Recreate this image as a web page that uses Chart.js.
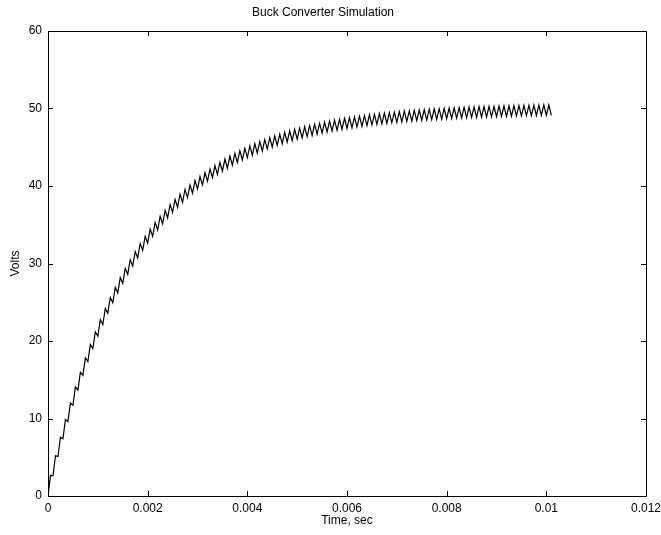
<!DOCTYPE html>
<html>
<head>
<meta charset="utf-8">
<title>Buck Converter Simulation</title>
<script src="https://cdn.jsdelivr.net/npm/chart.js@4"></script>
<style>
  html, body { margin: 0; padding: 0; background: #fff; }
  #wrap { width: 661px; height: 535px; }
</style>
</head>
<body>
<div id="wrap"><canvas id="buckChart" width="661" height="535"></canvas></div>
<script>
// switching period of the converter (s)
const PERIOD = 0.0001;

// output voltage at the start of each switching cycle (troughs)
const troughVolts = [
    0.0, 2.6, 5.1, 7.4, 9.6, 11.7, 13.68, 15.56, 17.34, 19.03,
    20.62, 22.13, 23.57, 24.93, 26.21, 27.43, 28.59, 29.68, 30.71, 31.69,
    32.63, 33.51, 34.34, 35.13, 35.88, 36.59, 37.26, 37.9, 38.5, 39.07,
    39.61, 40.12, 40.61, 41.07, 41.5, 41.92, 42.31, 42.68, 43.03, 43.36,
    43.67, 43.97, 44.25, 44.52, 44.77, 45.01, 45.24, 45.46, 45.66, 45.85,
    46.04, 46.21, 46.38, 46.53, 46.68, 46.82, 46.95, 47.08, 47.19, 47.31,
    47.42, 47.51, 47.61, 47.7, 47.79, 47.87, 47.94, 48.02, 48.09, 48.16,
    48.22, 48.27, 48.33, 48.38, 48.43, 48.48, 48.53, 48.57, 48.6, 48.64,
    48.68, 48.72, 48.75, 48.78, 48.81, 48.84, 48.86, 48.89, 48.91, 48.93,
    48.95, 48.97, 48.99, 49.01, 49.03, 49.04, 49.06, 49.07, 49.09, 49.1,
    49.11, 49.12
];

// output voltage at the end of each on-time (peaks)
const peakVolts = [
    2.67, 5.2, 7.59, 9.87, 12.01, 14.06, 15.98, 17.81, 19.55, 21.19,
    22.74, 24.21, 25.61, 26.93, 28.18, 29.37, 30.5, 31.56, 32.56, 33.51,
    34.43, 35.29, 36.09, 36.86, 37.59, 38.28, 38.94, 39.56, 40.14, 40.7,
    41.22, 41.72, 42.2, 42.64, 43.06, 43.47, 43.85, 44.21, 44.55, 44.87,
    45.17, 45.47, 45.74, 46.0, 46.24, 46.48, 46.7, 46.92, 47.11, 47.3,
    47.48, 47.65, 47.81, 47.96, 48.1, 48.24, 48.37, 48.49, 48.6, 48.72,
    48.82, 48.91, 49.01, 49.1, 49.18, 49.26, 49.33, 49.41, 49.48, 49.55,
    49.6, 49.65, 49.71, 49.76, 49.81, 49.86, 49.9, 49.94, 49.97, 50.01,
    50.05, 50.09, 50.12, 50.15, 50.18, 50.21, 50.23, 50.25, 50.27, 50.29,
    50.31, 50.33, 50.35, 50.37, 50.39, 50.4, 50.42, 50.43, 50.45, 50.46,
    50.47
];

// tick labels
const xTickValues = [0, 0.002, 0.004, 0.006, 0.008, 0.01, 0.012];
const yTickValues = [0, 10, 20, 30, 40, 50, 60];

const FONT = { family: "'Liberation Sans', Arial, Helvetica, sans-serif", size: 12 };

// interleave troughs and peaks into one trace
const points = [];
for (let k = 0; k < troughVolts.length; k++) {
    points.push({ x: k * PERIOD, y: troughVolts[k] });
    if (k < peakVolts.length) {
        points.push({ x: (k + 0.5) * PERIOD, y: peakVolts[k] });
    }
}

// matlab-ish box with inward ticks on all four sides
const boxPlugin = {
    id: "boxPlugin",
    afterDraw(chart) {
        const { ctx, chartArea: a, scales } = chart;
        const len = 5;
        ctx.save();
        ctx.strokeStyle = "#000";
        ctx.lineWidth = 1;
        ctx.beginPath();
        ctx.rect(Math.round(a.left) + 0.5, Math.round(a.top) + 0.5,
                 Math.round(a.right - a.left), Math.round(a.bottom - a.top));
        xTickValues.forEach(function (v) {
            const px = Math.round(scales.x.getPixelForValue(v)) + 0.5;
            ctx.moveTo(px, a.bottom);
            ctx.lineTo(px, a.bottom - len);
            ctx.moveTo(px, a.top);
            ctx.lineTo(px, a.top + len);
        });
        yTickValues.forEach(function (v) {
            const py = Math.round(scales.y.getPixelForValue(v)) + 0.5;
            ctx.moveTo(a.left, py);
            ctx.lineTo(a.left + len, py);
            ctx.moveTo(a.right, py);
            ctx.lineTo(a.right - len, py);
        });
        ctx.stroke();
        ctx.restore();
    }
};

const ctx = document.getElementById("buckChart").getContext("2d");
const buckChart = new Chart(ctx, {
    type: "line",
    data: {
        datasets: [{
            label: "Vout",
            data: points,
            borderColor: "#000",
            borderWidth: 1.2,
            pointRadius: 0,
            tension: 0,
            fill: false
        }]
    },
    options: {
        responsive: false,
        animation: false,
        layout: { padding: { left: 0, right: 15, top: 0, bottom: 0 } },
        plugins: {
            legend: { display: false },
            tooltip: { enabled: false },
            title: {
                display: true,
                text: "Buck Converter Simulation",
                color: "#000",
                font: { family: FONT.family, size: 12, weight: "normal" },
                padding: { top: 5, bottom: 11.6 }
            }
        },
        scales: {
            x: {
                type: "linear",
                min: 0,
                max: 0.012,
                grid: { display: false, drawTicks: false },
                border: { display: false },
                afterBuildTicks: function (scale) {
                    scale.ticks = xTickValues.map(v => ({ value: v }));
                },
                afterFit: function (scale) {
                    scale.height = 39;
                    // let the outer label overhang instead of shrinking the plot
                    scale.paddingLeft = 0;
                    scale.paddingRight = 0;
                },
                ticks: {
                    color: "#000",
                    font: FONT,
                    padding: 5,
                    maxRotation: 0,
                    callback: v => String(Number(v.toFixed(3)))
                },
                title: {
                    display: true,
                    text: "Time, sec",
                    color: "#000",
                    font: FONT,
                    padding: { top: 0, bottom: 6.8 }
                }
            },
            y: {
                min: 0,
                max: 60,
                grid: { display: false, drawTicks: false },
                border: { display: false },
                afterBuildTicks: function (scale) {
                    scale.ticks = yTickValues.map(v => ({ value: v }));
                },
                afterFit: function (scale) {
                    scale.width = 48;
                    scale.paddingTop = 0;
                    scale.paddingBottom = 0;
                },
                ticks: {
                    color: "#000",
                    font: FONT,
                    padding: 6
                },
                title: {
                    display: true,
                    text: "Volts",
                    color: "#000",
                    font: FONT,
                    padding: { top: 8.8, bottom: 0 }
                }
            }
        }
    },
    plugins: [boxPlugin]
});
</script>
</body>
</html>
